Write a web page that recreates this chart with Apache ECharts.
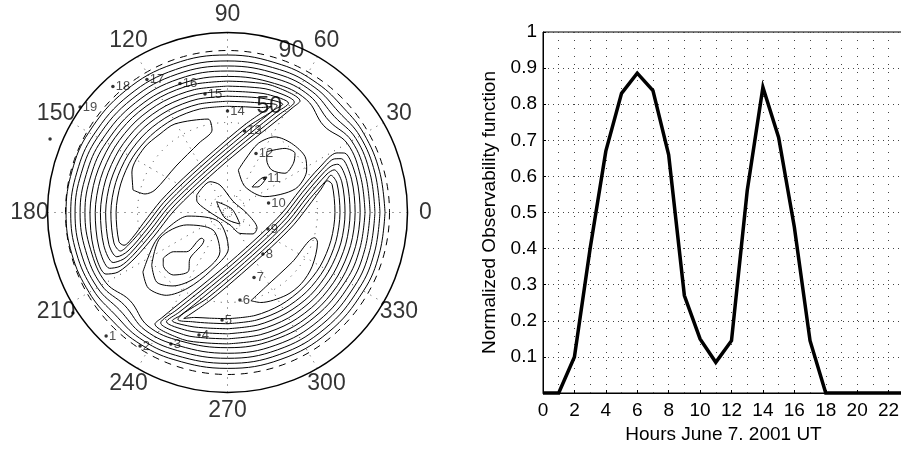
<!DOCTYPE html>
<html>
<head>
<meta charset="utf-8">
<script src="https://cdn.jsdelivr.net/npm/echarts@6/dist/echarts.min.js"></script>
<style>
  html, body { margin: 0; padding: 0; background: #fff; }
  #main { width: 901px; height: 450px; }
</style>
</head>
<body>
<div id="main"></div>
<script>
// ---- right panel: observability per hour ----
var hours = [0, 1, 2, 3, 4, 5, 6, 7, 8, 9, 10, 11, 12, 13, 14, 15, 16, 17, 18, 19, 20, 21, 22, 23, 24];
var observability = [0, 0, 0.1, 0.4, 0.67, 0.83, 0.886, 0.838, 0.66, 0.27, 0.15, 0.085, 0.145, 0.56, 0.847, 0.708, 0.46, 0.145, 0, 0, 0, 0, 0, 0, 0];

// ---- left panel: sky plot ----
var angleTicks = [0, 30, 60, 90, 120, 150, 180, 210, 240, 270, 300, 330];
var radiusTicks = [50, 90];
// hour track: zenith distance, azimuth
var trackHour = [0, 1, 2, 3, 4, 5, 6, 7, 8, 9, 10, 11, 12, 13, 14, 15, 16, 17, 18, 19, 20];
var trackZenith = [102.4, 96.2, 88.7, 79.5, 69.9, 59.8, 49.1, 39.0, 30.3, 24.3, 23.4, 27.9, 36.4, 46.3, 56.4, 67.0, 76.4, 86.4, 94.6, 100.7, 106.7];
var trackAzimuth = [213.0, 225.5, 236.8, 246.7, 256.9, 267.1, 278.1, 292.2, 310.5, 337.8, 13.0, 42.6, 64.2, 78.2, 90.0, 100.75, 110.2, 121.2, 132.3, 144.4, 157.5];

// outer contour rings: zenith distance read at these azimuths
var ringAzimuth = [0, 15, 30, 42, 55, 70, 90, 110, 130, 150, 165, 180, 195, 210, 222, 235, 250, 270, 290, 310, 330, 345, 360];
var rings = [
  [87.5, 87.5, 87.5, 86.8, 87.4, 87.4, 87.5, 87.8, 88.3, 89.0, 89.4, 89.7, 89.5, 88.8, 87.8, 87.8, 87.0, 86.6, 86.8, 87.0, 87.2, 87.4, 87.5],
  [84.7, 84.8, 84.9, 83.3, 84.7, 84.5, 84.2, 84.5, 85.1, 86.0, 86.6, 87.1, 86.9, 86.1, 84.4, 85.2, 84.4, 83.8, 84.0, 84.2, 84.4, 84.6, 84.7],
  [81.9, 82.1, 82.3, 79.8, 82.0, 81.8, 81.4, 81.8, 82.4, 83.4, 84.1, 84.7, 84.4, 83.5, 80.8, 82.5, 81.6, 81.0, 81.2, 81.4, 81.6, 81.8, 81.9],
  [79.2, 79.4, 79.6, 76.0, 79.3, 79.1, 78.6, 79.0, 79.6, 80.6, 81.3, 81.9, 81.6, 80.8, 77.0, 79.8, 78.8, 78.2, 78.4, 78.6, 78.8, 79.0, 79.2],
  [76.4, 76.6, 76.8, 72.0, 76.5, 76.3, 75.6, 76.0, 76.8, 77.8, 78.6, 79.2, 78.8, 78.0, 73.0, 77.0, 76.0, 75.1, 75.3, 75.6, 75.9, 76.2, 76.4]
];

// contours around the upper-left lobe, x/y in zenith units (x = r cos az, y = r sin az)
var ulContours = [
  [[-52.5,12.5],[-53.1,22.5],[-46.4,35.8],[-37.5,43.6],[-29.2,49.2],[-10.8,51.9],[-8.6,45.8],[-15.8,38.6],[-28.6,25.8],[-40.3,12.5],[-45.8,10.3],[-52.5,12.5]],
  [[0,59],[-15.4,57.5],[-30,51.9],[-42.7,42.7],[-52.8,30.5],[-59.3,15.9],[-61.9,0],[-60.3,-16.2],[-57.5,-18.2],[-52,-13],[-46.8,-6],[-36.8,6.8],[-24.6,19],[-7.9,34],[9.8,48.9],[24.3,58.9],[18.2,58.3],[10.1,58.7],[0,59]],
  [[0,61.8],[-16.1,60.2],[-31.4,54.4],[-44.8,44.8],[-55.3,31.9],[-62.1,16.7],[-64.8,0],[-63.1,-16.9],[-59.5,-21.4],[-55,-18],[-45.5,-7.3],[-35.5,5.5],[-23.3,17.7],[-6.6,32.7],[10.9,47.4],[27.5,59.5],[19.5,60.7],[10.6,61.4],[0,61.8]],
  [[0,64.6],[-16.9,62.9],[-32.8,56.8],[-46.8,46.8],[-57.7,33.3],[-64.9,17.4],[-67.7,0],[-65.9,-17.7],[-61.5,-24.6],[-55.3,-21.4],[-44.2,-8.6],[-34.2,4.2],[-22,16.4],[-5.3,31.4],[12,45.9],[25.9,57],[30.7,60.1],[20.9,63.2],[11.1,64.2],[0,64.6]],
  [[0,67.4],[-17.6,65.6],[-34.2,59.3],[-48.8,48.8],[-60.2,34.8],[-67.7,18.1],[-70.6,0],[-68.7,-18.4],[-63.5,-27.8],[-58,-26],[-54,-22.7],[-42.9,-9.9],[-32.9,2.9],[-20.7,15.1],[-4,30.1],[13.1,44.4],[27,55.5],[33.9,60.7],[22.3,65.6],[11.5,66.9],[0,67.4]],
  [[0,70.2],[-18.3,68.3],[-35.7,61.7],[-50.8,50.8],[-62.7,36.2],[-70.5,18.9],[-73.5,0],[-71.5,-19.2],[-65.5,-31],[-59.5,-29.8],[-52.7,-24],[-41.6,-11.2],[-31.6,1.6],[-19.4,13.8],[-2.7,28.8],[14.2,42.9],[28.1,54],[37.1,61.3],[23.6,68.1],[12,69.7],[0,70.2]],
  [[0,73],[-19.1,71.1],[-37.1,64.2],[-52.8,52.8],[-65.2,37.6],[-73.3,19.6],[-76.4,0],[-74.4,-19.9],[-67.5,-34.2],[-60.8,-33.1],[-51.4,-25.3],[-40.3,-12.5],[-30.3,0.3],[-18.1,12.5],[-1.4,27.5],[15.3,41.4],[29.2,52.5],[36.5,58.5],[40.3,61.9],[25,70.5],[12.5,72.4],[0,73]]
];

// contours around the lower-right lobe
var lrContours = [
  [[13,-49],[21,-41.5],[36,-27.5],[48.5,-14],[50,-16.5],[47,-30],[41,-39.5],[32.5,-46],[18.5,-50],[13,-49]],
  [[0,-59],[15.3,-57.2],[29.6,-51.3],[41.9,-41.9],[51.5,-29.8],[57.5,-15.4],[59.7,0],[58.1,15.6],[55.5,17.6],[52,13],[46.8,6],[36.8,-6.8],[24.6,-19],[7.9,-34],[-9.8,-48.9],[-24.3,-58.9],[-18.2,-58.3],[-10.1,-58.7],[0,-59]],
  [[0,-61.8],[16,-59.8],[31,-53.7],[44,-44],[54,-31.1],[60.2,-16.2],[62.5,0],[60.8,16.3],[57.4,20.7],[55,18],[45.5,7.3],[35.5,-5.5],[23.3,-17.7],[6.6,-32.7],[-10.9,-47.4],[-27.5,-59.5],[-19.5,-60.7],[-10.6,-61.4],[0,-61.8]],
  [[0,-64.6],[16.8,-62.5],[32.4,-56.1],[46,-46],[56.3,-32.5],[63,-16.9],[65.3,0],[63.5,17],[59.3,23.7],[55.3,21.4],[44.2,8.6],[34.2,-4.2],[22,-16.4],[5.3,-31.4],[-12,-45.9],[-25.9,-57],[-30.7,-60.1],[-20.9,-63.2],[-11.1,-64.2],[0,-64.6]],
  [[0,-67.4],[17.5,-65.2],[33.8,-58.6],[47.9,-47.9],[58.8,-34],[65.7,-17.6],[68.1,0],[66.2,17.7],[61.3,26.8],[58,26],[54,22.7],[42.9,9.9],[32.9,-2.9],[20.7,-15.1],[4,-30.1],[-13.1,-44.4],[-27,-55.5],[-33.9,-60.7],[-22.3,-65.6],[-11.5,-66.9],[0,-67.4]],
  [[0,-70.2],[18.2,-67.9],[35.3,-61],[49.9,-49.9],[61.2,-35.3],[68.4,-18.3],[70.9,0],[68.9,18.5],[63.2,29.9],[59.5,29.8],[52.7,24],[41.6,11.2],[31.6,-1.6],[19.4,-13.8],[2.7,-28.8],[-14.2,-42.9],[-28.1,-54],[-37.1,-61.3],[-23.6,-68.1],[-12,-69.7],[0,-70.2]],
  [[0,-73],[19,-70.7],[36.7,-63.4],[51.8,-51.8],[63.6,-36.7],[71.1,-19],[73.7,0],[71.6,19.2],[65.1,33],[60.8,33.1],[51.4,25.3],[40.3,12.5],[30.3,-0.3],[18.1,-12.5],[1.4,-27.5],[-15.3,-41.4],[-29.2,-52.5],[-36.5,-58.5],[-40.3,-61.9],[-25,-70.5],[-12.5,-72.4],[0,-73]]
];

// contours of the central ridge
var centralContours = [
  [[-6,6],[2.5,1.9],[6.9,-6.4],[-1.4,-3.1],[-6,6]],
  [[-17.1,9.7],[-9.7,17.1],[-4.2,15.3],[3.2,6.1],[10.7,-0.4],[16.4,-8.6],[14.2,-11.9],[6.9,-11.6],[1.4,-6.9],[-11.6,1.4],[-17.1,6.9],[-17.1,9.7]],
  [[21.8,33.8],[31.9,35.6],[37.5,32.8],[36.6,27.3],[31.9,21.8],[24.6,23.6],[21.8,29.2],[21.8,33.8]],
  [[13.6,14.2],[19.2,19.2],[21.9,19.7],[16.9,14.2],[13.6,14.2]],
  [[6,23.6],[9.7,29.2],[17.1,38.4],[26.4,42],[35.6,38.4],[43.1,31],[44,23.6],[39.3,14.4],[31.9,10.7],[20.8,8.8],[9.7,14.4],[6,23.6]],
  [[-35.7,-25.4],[-30.1,-21.8],[-22.7,-21.8],[-14.3,-14.3],[-13.1,-15.4],[-20.8,-25.4],[-21.8,-32.8],[-30.1,-34.7],[-35.7,-29.3],[-35.7,-25.4]],
  [[-42.1,-29.2],[-37.5,-14.2],[-22.6,-6.9],[-8.1,-9.7],[-4.2,-21.8],[-17.5,-36],[-30.3,-40.8],[-39.3,-38.7],[-42.1,-29.2]],
  [[-47,-33],[-40,-16],[-30,-6],[-22,-2],[-5,-5],[0.5,-20],[-9.5,-32.5],[-22,-42],[-34,-46],[-44,-42],[-47,-33]]
];

var FONT = 'Liberation Sans, Arial, Helvetica, sans-serif';
var chart = echarts.init(document.getElementById('main'));

var CX = 227.5, CY = 212.5, R = 180;  // sky plot frame, R <-> zenith 100

var series = [];

rings.forEach(function (ring) {
  series.push({
    type: 'line', coordinateSystem: 'polar', polarIndex: 0,
    data: ring.map(function (r, i) { return [r, ringAzimuth[i]]; }),
    smooth: 0.4, symbol: 'none', clip: false, silent: true,
    lineStyle: { color: '#000', width: 1 }
  });
});

ulContours.concat(lrContours, centralContours).forEach(function (c) {
  series.push({
    type: 'line', xAxisIndex: 0, yAxisIndex: 0,
    data: c, smooth: 0.3, symbol: 'none', clip: false, silent: true,
    lineStyle: { color: '#000', width: 1 }
  });
});

series.push({
  type: 'scatter', coordinateSystem: 'polar', polarIndex: 0, clip: false,
  data: trackHour.map(function (h, i) { return [trackZenith[i], trackAzimuth[i], h]; }),
  symbolSize: 3.5,
  itemStyle: { color: '#000' },
  label: {
    show: true, position: 'right', distance: 1,
    fontFamily: FONT, fontSize: 13, color: '#222',
    formatter: function (p) { var h = p.value[2]; return (h >= 1 && h <= 19) ? String(h) : ''; }
  }
});

// angle tick labels
series.push({
  type: 'scatter', coordinateSystem: 'polar', polarIndex: 0, clip: false, silent: true,
  data: angleTicks.map(function (a) { return [110, a]; }),
  symbolSize: 1, itemStyle: { color: 'rgba(0,0,0,0)' },
  label: {
    show: true, position: 'inside', fontFamily: FONT, fontSize: 23, color: '#000',
    formatter: function (p) { return String(p.value[1]); }
  }
});

// radius tick labels
series.push({
  type: 'scatter', coordinateSystem: 'polar', polarIndex: 0, clip: false, silent: true,
  data: radiusTicks.map(function (t) { return [t * 0.835 + 21.3, 68.4, t]; }),
  symbolSize: 1, itemStyle: { color: 'rgba(0,0,0,0)' },
  label: {
    show: true, position: 'inside', fontFamily: FONT, fontSize: 23, color: '#000',
    formatter: function (p) { return String(p.value[2]); }
  }
});

series.push({
  type: 'line', xAxisIndex: 1, yAxisIndex: 1,
  data: hours.map(function (h, i) { return [h, observability[i]]; }),
  symbol: 'none', clip: false,
  lineStyle: { color: '#000', width: 3.5, join: 'miter' }
});

function circleAxis(idx, lineStyle, spokes) {
  return {
    polarIndex: idx, type: 'value', min: 0, max: 360, interval: 30,
    startAngle: 0, clockwise: false,
    axisLine: { show: true, lineStyle: lineStyle },
    axisTick: { show: false }, axisLabel: { show: false },
    splitLine: { show: spokes, lineStyle: { color: '#444', width: 1, type: [1, 6] } }
  };
}
function hiddenRadius(idx) {
  return {
    polarIndex: idx, type: 'value', min: 0, max: 100,
    axisLine: { show: false }, axisTick: { show: false }, axisLabel: { show: false },
    splitLine: { show: false }
  };
}

var option = {
  backgroundColor: '#fff',
  animation: false,
  polar: [
    { center: [CX, CY], radius: R },
    { center: [CX, CY], radius: R * 0.9 },
    { center: [CX, CY], radius: R * 0.5 },
    { center: [CX, CY], radius: R * 0.1 }
  ],
  angleAxis: [
    circleAxis(0, { color: '#000', width: 1.5 }, true),
    circleAxis(1, { color: '#000', width: 1, type: [7, 6] }, false),
    circleAxis(2, { color: '#444', width: 1, type: [1, 6] }, false),
    circleAxis(3, { color: '#444', width: 1, type: [1, 6] }, false)
  ],
  radiusAxis: [hiddenRadius(0), hiddenRadius(1), hiddenRadius(2), hiddenRadius(3)],
  grid: [
    { left: CX - R, top: CY - R, width: 2 * R, height: 2 * R, show: false, outerBoundsMode: 'none' },
    { left: 543, top: 32, width: 377, height: 361, show: true, borderColor: '#000', borderWidth: 1, outerBoundsMode: 'none' }
  ],
  xAxis: [
    { gridIndex: 0, type: 'value', min: -100, max: 100, show: false },
    {
      gridIndex: 1, type: 'value', min: 0, max: 24, interval: 2,
      name: 'Hours June 7. 2001 UT', nameLocation: 'middle', nameGap: 29,
      nameTextStyle: { fontFamily: FONT, fontSize: 19, color: '#000', padding: [0, 16, 0, 0] },
      axisLine: { show: true, lineStyle: { color: '#000', width: 1 } },
      axisTick: { show: true, inside: true, length: 3, lineStyle: { color: '#000' } },
      axisLabel: { fontFamily: FONT, fontSize: 19, color: '#000', margin: 8 },
      splitLine: { show: true, lineStyle: { color: '#444', width: 1, type: [1, 7] } },
      minorTick: { show: false, splitNumber: 2 },
      minorSplitLine: { show: true, lineStyle: { color: '#444', width: 1, type: [1, 7] } }
    }
  ],
  yAxis: [
    { gridIndex: 0, type: 'value', min: -100, max: 100, show: false },
    {
      gridIndex: 1, type: 'value', min: 0, max: 1, interval: 0.1,
      name: 'Normalized Observability function', nameLocation: 'middle', nameGap: 44,
      nameTextStyle: { fontFamily: FONT, fontSize: 19, color: '#000' },
      axisLine: { show: true, lineStyle: { color: '#000', width: 1 } },
      axisTick: { show: true, inside: true, length: 3, lineStyle: { color: '#000' } },
      axisLabel: {
        fontFamily: FONT, fontSize: 19, color: '#000', margin: 6,
        formatter: function (v) { return v === 0 ? '' : String(Math.round(v * 10) / 10); }
      },
      splitLine: { show: true, lineStyle: { color: '#444', width: 1, type: [1, 4] } }
    }
  ],
  series: series
};

chart.setOption(option);
</script>
</body>
</html>
